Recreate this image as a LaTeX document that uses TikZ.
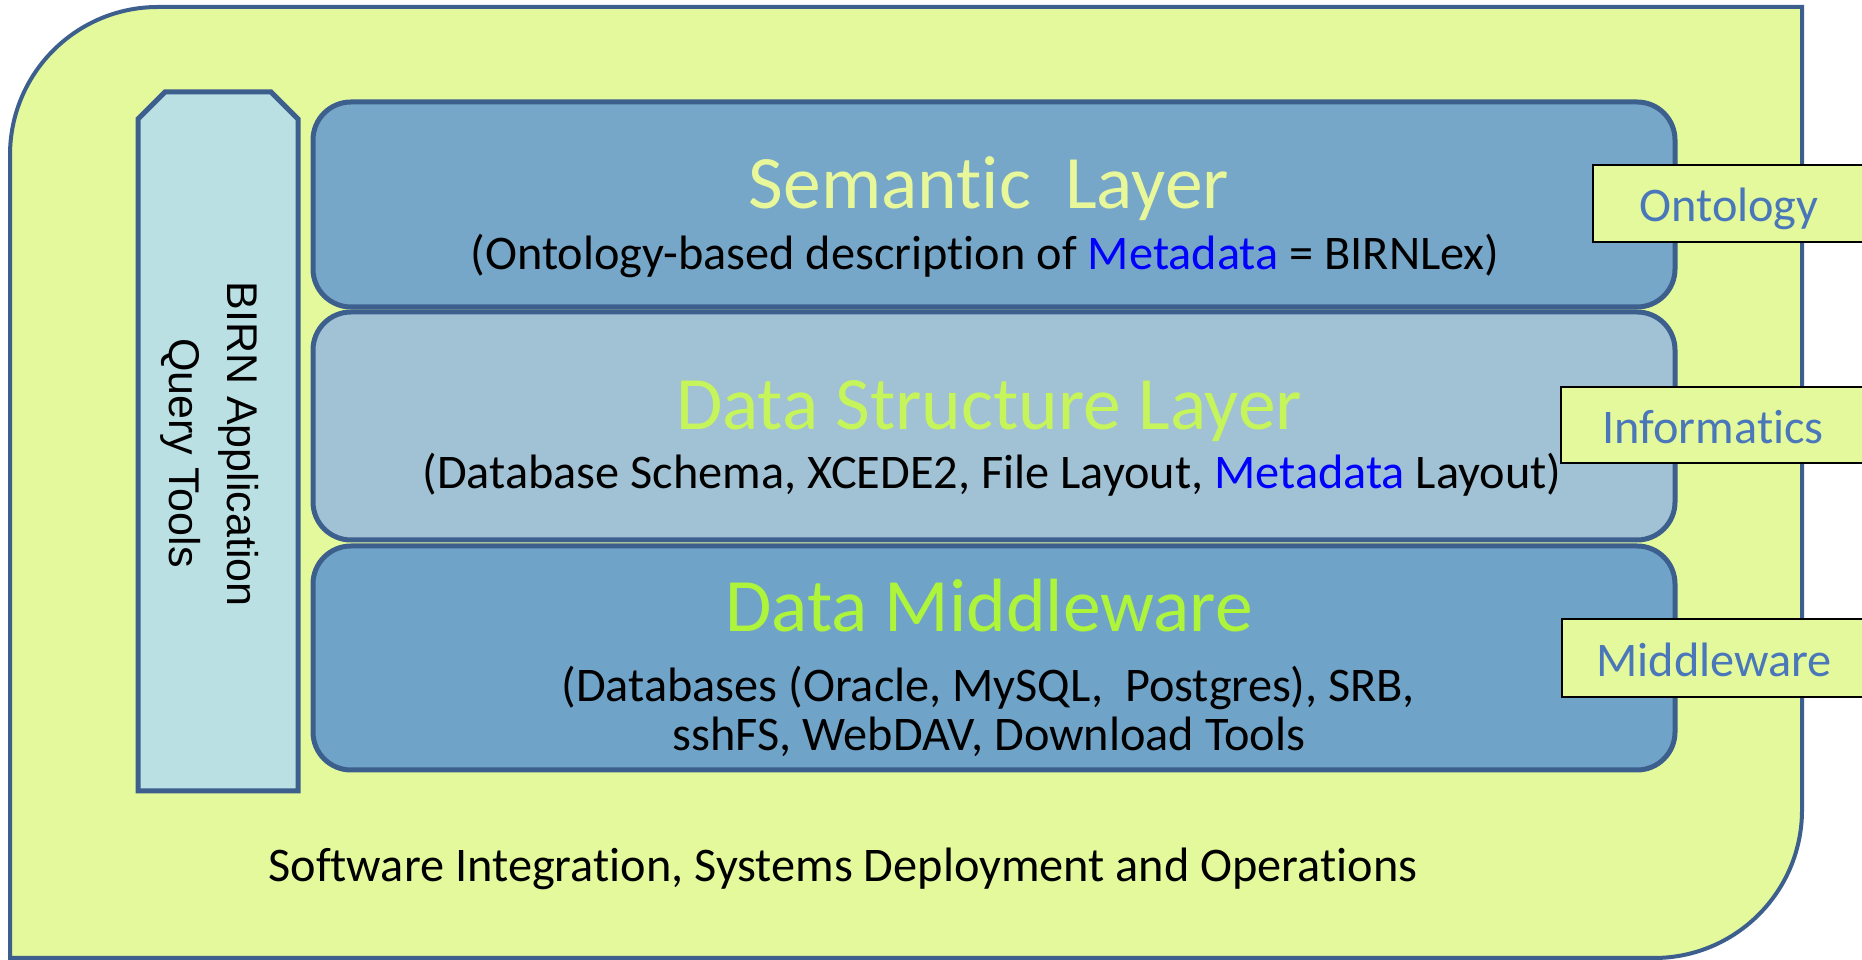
\documentclass[tikz,border=0pt]{standalone}
\usepackage{fontspec}
\setmainfont{Carlito}[RawFeature={-liga}]
\newfontfamily\arialfont{Liberation Sans}[RawFeature={-liga}]
\definecolor{lime}{HTML}{E4F99B}
\definecolor{frame}{HTML}{3D5F8E}
\definecolor{birnfill}{HTML}{BAE0E3}
\definecolor{semfill}{HTML}{76A7C8}
\definecolor{dsfill}{HTML}{A1C1D4}
\definecolor{mwfill}{HTML}{70A3C8}
\definecolor{semtitle}{HTML}{E7F79A}
\definecolor{dstitle}{HTML}{C5F55A}
\definecolor{mwtitle}{HTML}{ADF43A}
\definecolor{tagtext}{HTML}{4A77B9}
\definecolor{metablue}{HTML}{0000FF}
\begin{document}
\begin{tikzpicture}[x=1pt,y=1pt,
  outerframe/.style={draw=frame,line width=4pt,fill=lime},
  layer/.style={draw=frame,line width=5pt,rounded corners=38pt,inner sep=0pt,minimum width=1362pt},
  birnbox/.style={draw=frame,line width=5pt,fill=birnfill},
  tagbox/.style={draw=black,line width=2pt,fill=lime,inner sep=0pt,minimum width=320pt},
  title/.style={anchor=base,inner sep=0pt,font=\fontsize{75.5}{90}\selectfont},
  sub/.style={anchor=base,inner sep=0pt,font=\fontsize{48.3}{58}\selectfont},
  tagtxt/.style={anchor=base,inner sep=0pt,text=tagtext,font=\fontsize{48.3}{58}\selectfont},
  birntxt/.style={anchor=base,inner sep=0pt,rotate=-90,font=\arialfont\fontsize{43}{50}\selectfont}]
\clip (0,0) rectangle (1862,960);
\useasboundingbox (0,0) rectangle (1862,960);

% outer container with two rounded corners
\draw[outerframe] (10,2) -- (10,805) arc[start angle=180,end angle=90,radius=148pt]
  -- (1802,953) -- (1802,150) arc[start angle=0,end angle=-90,radius=148pt] -- cycle;

% query tools column with chamfered top
\draw[birnbox] (138,169) -- (138,841) -- (165,868) -- (271,868) -- (298,841) -- (298,169) -- cycle;
\node[birntxt] (birn1) at (227,516) {BIRN Application};
\node[birntxt] (birn2) at (169,507) {Query Tools};

% the three layers
\node[layer,fill=semfill,minimum height=205pt] (sem) at (994,755.5) {};
\node[layer,fill=dsfill,minimum height=228pt] (ds) at (994,534) {};
\node[layer,fill=mwfill,minimum height=224pt] (mw) at (994,302) {};

\node[title,text=semtitle] (semt) at (989,751) {Semantic~ Layer};
\node[sub] (sems) at (985,690) {(Ontology-based description of \textcolor{metablue}{Metadata} = BIRNLex)};

\node[title,text=dstitle] (dst) at (989,530) {Data Structure Layer};
\node[sub] (dss) at (992,471) {(Database Schema, XCEDE2, File Layout, \textcolor{metablue}{Metadata} Layout)};

\node[title,text=mwtitle] (mwt) at (989,328) {Data Middleware};
\node[sub] (mws1) at (988,258) {(Databases (Oracle, MySQL,~ Postgres), SRB,};
\node[sub] (mws2) at (989,209) {sshFS, WebDAV, Download Tools};

\node[sub] (sw) at (843,78) {Software Integration, Systems Deployment and Operations};

% side tags
\node[tagbox,minimum height=77pt] (ont) at (1753,756.5) {};
\node[tagtxt] (ontt) at (1729,738) {Ontology};
\node[tagbox,minimum height=76pt] (inf) at (1721,535) {};
\node[tagtxt] (inft) at (1713,516) {Informatics};
\node[tagbox,minimum height=78pt] (mid) at (1722,302) {};
\node[tagtxt] (midt) at (1714,283) {Middleware};
\end{tikzpicture}
\end{document}
